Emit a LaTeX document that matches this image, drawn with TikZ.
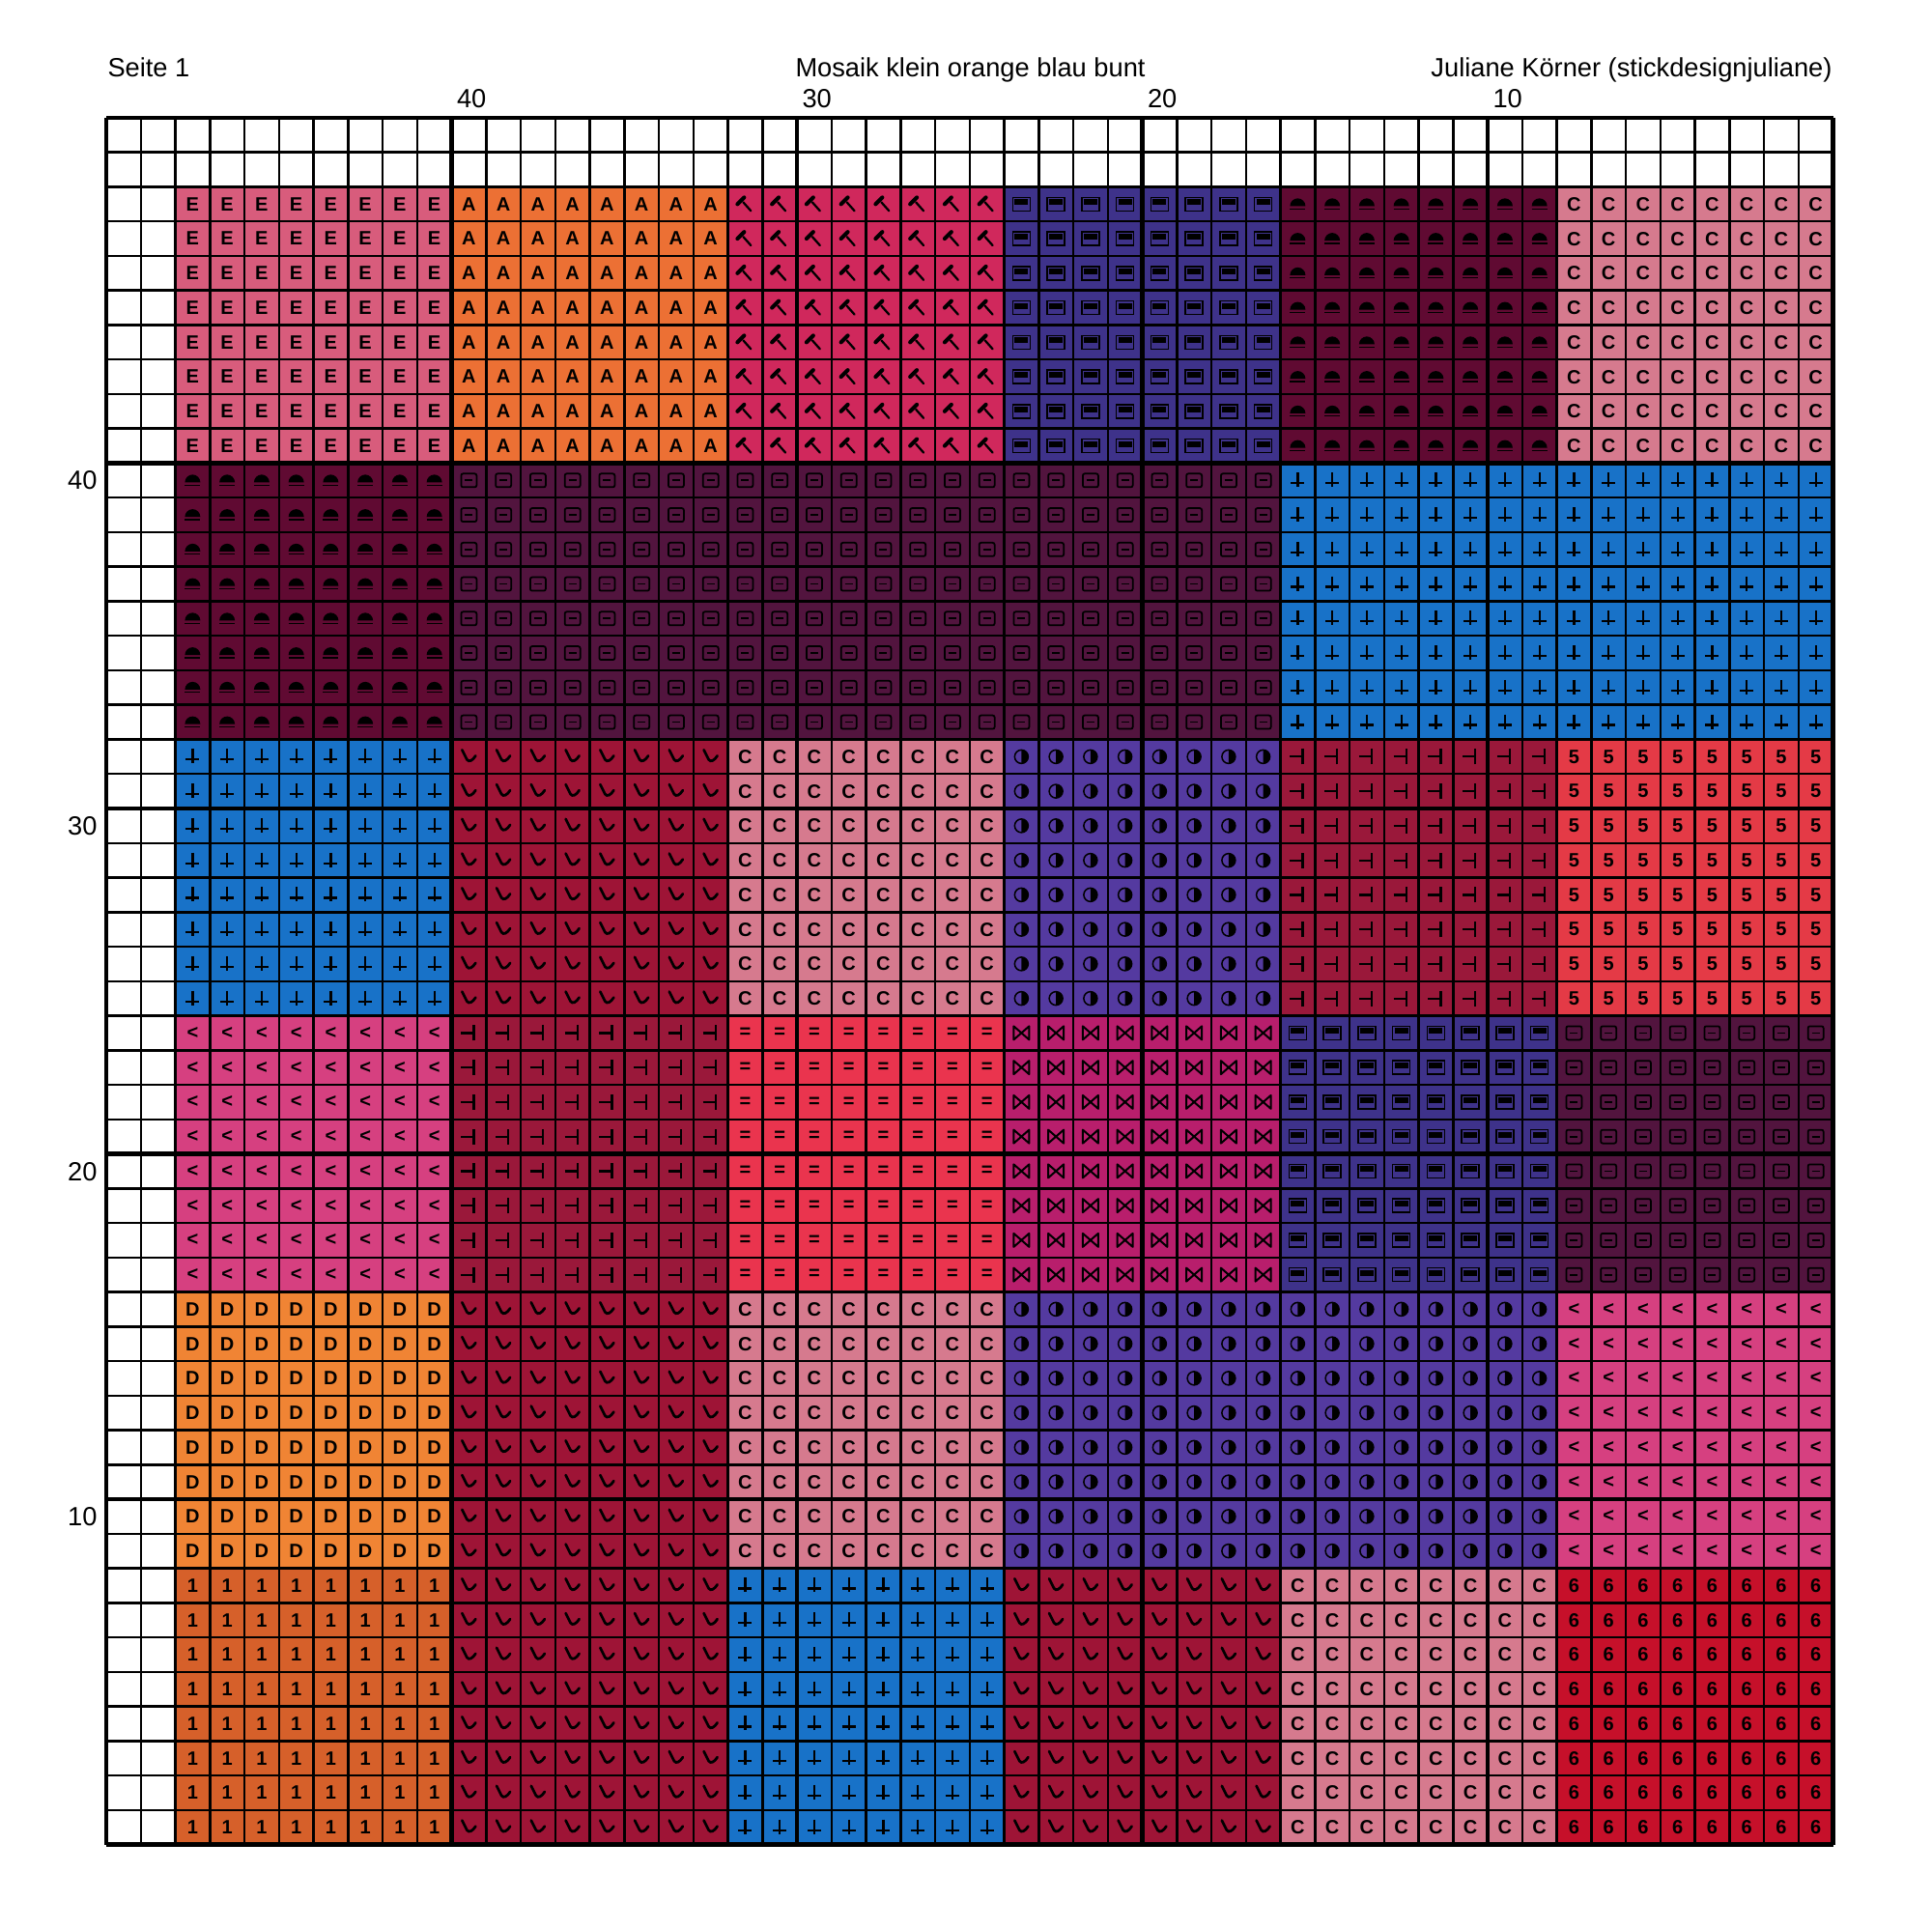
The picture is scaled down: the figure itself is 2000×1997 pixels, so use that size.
\documentclass[tikz,border=0pt]{standalone}
\usepackage{fontspec}
\setmainfont{Liberation Sans}
\usepackage{xcolor}

\definecolor{fillE}{RGB}{216,92,124}
\definecolor{fillA}{RGB}{236,112,52}
\definecolor{fillHammer}{RGB}{208,40,92}
\definecolor{fillBox}{RGB}{62,50,138}
\definecolor{fillDome}{RGB}{96,10,50}
\definecolor{fillC}{RGB}{214,122,142}
\definecolor{fillFrame}{RGB}{82,20,62}
\definecolor{fillPlus}{RGB}{24,114,200}
\definecolor{fillHook}{RGB}{158,20,54}
\definecolor{fillMoon}{RGB}{84,58,160}
\definecolor{fillTack}{RGB}{154,24,58}
\definecolor{fillFive}{RGB}{228,58,70}
\definecolor{fillLess}{RGB}{214,64,128}
\definecolor{fillEq}{RGB}{234,52,78}
\definecolor{fillBowtie}{RGB}{184,30,108}
\definecolor{fillD}{RGB}{240,132,52}
\definecolor{fillOne}{RGB}{214,96,42}
\definecolor{fillSix}{RGB}{198,16,42}

\tikzset{
  glyph/.style={font=\fontsize{8}{8}\selectfont\bfseries, inner sep=0pt, text=black},
  sym/.style={line width=0.9pt, black},
  stChr/.pic={\node[glyph] {#1};},
  stHammer/.pic={\draw[sym, line cap=round] (-2,2) -- (6,-7);
                 \draw[sym, line width=1.6pt, line cap=round] (-8,0) -- (-1,7);},
  stBox/.pic={\draw[sym, line width=0.6pt] (-9,-7) rectangle (9,7);
              \fill (-7,5) rectangle (7,-1);},
  stDome/.pic={\fill (-8,-2) arc (180:0:8) -- cycle;
               \draw[sym, line width=0.5pt] (-8,-5) -- (8,-5);},
  stFrame/.pic={\draw[sym, line width=0.7pt, rounded corners=0.8pt] (-8,-7) rectangle (8,7);
                \draw[sym, line width=0.7pt] (-4,0) -- (4,0);},
  stPlus/.pic={\draw[sym] (0,8) -- (0,-7); \draw[sym] (-7,-3) -- (7,-3);},
  stHook/.pic={\draw[sym, line width=1.1pt, line cap=round] (-7,7) -- (-2,-3) .. controls (0,-6) and (4,-4) .. (7,1);},
  stMoon/.pic={\draw[sym, line width=0.6pt] (0,0) circle (7);
               \fill (0,7) arc (90:-90:7) -- cycle;},
  stTack/.pic={\draw[sym] (-8,0) -- (5,0); \draw[sym] (5,-8) -- (5,8);},
  stBowtie/.pic={\draw[sym, line width=0.8pt, line join=round] (-8,-7) -- (-8,7) -- (8,-7) -- (8,7) -- cycle;},
  thinrule/.style={line width=1pt, black},
  boldrule/.style={line width=1.9pt, black},
  header/.style={font=\fontsize{10.9}{13}\selectfont, inner sep=0pt}
}

% one coloured block of the chart: column, row (from top left), width, height, colour, symbol
\newcommand{\stitchblock}[6]{%
  \fill[#5] ({110+35.75*#1},{122+35.75*#2}) rectangle ++({35.75*#3},{35.75*#4});
  \foreach \i in {1,...,#3}{
    \foreach \j in {1,...,#4}{
      \pic at ({110+35.75*(#1+\i-0.5)},{122+35.75*(#2+\j-0.5)}) {#6};
    }
  }
}

\begin{document}
\begin{tikzpicture}[
    x=0.4pt, y=0.4pt, yscale=-1, xscale=1
]
\useasboundingbox (0,0) rectangle (2000,1997);

%==================== Header ====================
\node[header, anchor=base west] (page) at (111,80) {Seite 1};
\node[header, anchor=base west] (title) at (823,80) {Mosaik klein orange blau bunt};
\node[header, anchor=base east] (author) at (1897,80) {Juliane Körner (stickdesignjuliane)};

%==================== Blocks, row 1 ====================
\stitchblock{2}{2}{8}{8}{fillE}{stChr={E}}
\stitchblock{10}{2}{8}{8}{fillA}{stChr={A}}
\stitchblock{18}{2}{8}{8}{fillHammer}{stHammer}
\stitchblock{26}{2}{8}{8}{fillBox}{stBox}
\stitchblock{34}{2}{8}{8}{fillDome}{stDome}
\stitchblock{42}{2}{8}{8}{fillC}{stChr={C}}

%==================== Blocks, row 2 ====================
\stitchblock{2}{10}{8}{8}{fillDome}{stDome}
\stitchblock{10}{10}{24}{8}{fillFrame}{stFrame}
\stitchblock{34}{10}{16}{8}{fillPlus}{stPlus}

%==================== Blocks, row 3 ====================
\stitchblock{2}{18}{8}{8}{fillPlus}{stPlus}
\stitchblock{10}{18}{8}{8}{fillHook}{stHook}
\stitchblock{18}{18}{8}{8}{fillC}{stChr={C}}
\stitchblock{26}{18}{8}{8}{fillMoon}{stMoon}
\stitchblock{34}{18}{8}{8}{fillTack}{stTack}
\stitchblock{42}{18}{8}{8}{fillFive}{stChr={5}}

%==================== Blocks, row 4 ====================
\stitchblock{2}{26}{8}{8}{fillLess}{stChr={<}}
\stitchblock{10}{26}{8}{8}{fillTack}{stTack}
\stitchblock{18}{26}{8}{8}{fillEq}{stChr={=}}
\stitchblock{26}{26}{8}{8}{fillBowtie}{stBowtie}
\stitchblock{34}{26}{8}{8}{fillBox}{stBox}
\stitchblock{42}{26}{8}{8}{fillFrame}{stFrame}

%==================== Blocks, row 5 ====================
\stitchblock{2}{34}{8}{8}{fillD}{stChr={D}}
\stitchblock{10}{34}{8}{8}{fillHook}{stHook}
\stitchblock{18}{34}{8}{8}{fillC}{stChr={C}}
\stitchblock{26}{34}{16}{8}{fillMoon}{stMoon}
\stitchblock{42}{34}{8}{8}{fillLess}{stChr={<}}

%==================== Blocks, row 6 ====================
\stitchblock{2}{42}{8}{8}{fillOne}{stChr={1}}
\stitchblock{10}{42}{8}{8}{fillHook}{stHook}
\stitchblock{18}{42}{8}{8}{fillPlus}{stPlus}
\stitchblock{26}{42}{8}{8}{fillHook}{stHook}
\stitchblock{34}{42}{8}{8}{fillC}{stChr={C}}
\stitchblock{42}{42}{8}{8}{fillSix}{stChr={6}}

%==================== Grid ====================
\foreach \k in {0,...,50}{
  \draw[thinrule] ({110+35.75*\k},122) -- ({110+35.75*\k},1909.5);
  \draw[thinrule] (110,{122+35.75*\k}) -- (1897.5,{122+35.75*\k});
}
\foreach \k in {0,10,...,50}{
  \draw[boldrule] ({110+35.75*\k},122) -- ({110+35.75*\k},1909.5);
  \draw[boldrule] (110,{122+35.75*\k}) -- (1897.5,{122+35.75*\k});
}

%==================== Scale numbers ====================
\foreach \n/\k in {40/10,30/20,20/30,10/40}{
  \node[header, anchor=base west] (col-\n) at ({110+35.75*\k+5},112) {\n};
  \node[header, anchor=base east] (row-\n) at (101,{122+35.75*\k+27.5}) {\n};
}

\end{tikzpicture}
\end{document}
